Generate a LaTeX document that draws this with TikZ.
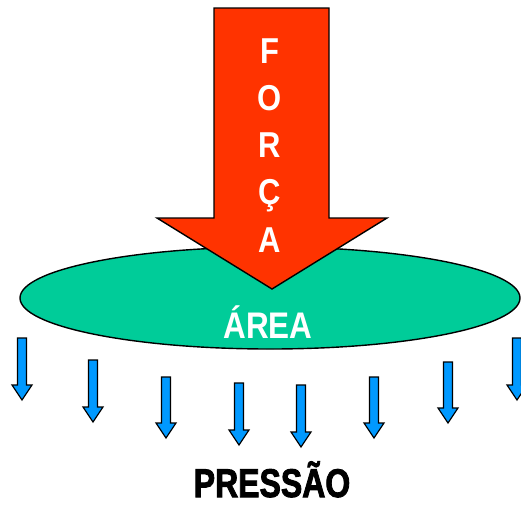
\documentclass[tikz,border=0pt]{standalone}
\usepackage{fontspec}
\setmainfont{Liberation Sans}
\newfontfamily\heavyfont{Liberation Sans}[BoldFeatures={FakeBold=2.5}]
\usetikzlibrary{shapes.geometric}
\definecolor{forcared}{HTML}{FF3300}
\definecolor{areagreen}{HTML}{00CC99}
\definecolor{pressblue}{HTML}{0099FF}
\tikzset{
  outline/.style={draw=black, line width=1.4pt, line join=miter},
  letter/.style={text=white, font=\bfseries\fontsize{36}{36}\selectfont, anchor=base, inner sep=0pt},
}
\begin{document}
\begin{tikzpicture}[x=1pt,y=-1pt]
\useasboundingbox (0,0) rectangle (521,506);
% area ellipse
\node[ellipse, outline, fill=areagreen, minimum width=500pt, minimum height=102pt, inner sep=0pt] (area) at (270,298) {};
% force arrow
\draw[outline, fill=forcared] (214,8) -- (329,8) -- (329,218) -- (387,218) -- (272,289) -- (157,218) -- (214,218) -- cycle;
\foreach \ch [count=\i from 0] in {F,O,R,Ç,A}
  \node[letter] (f\i) at (270,{63+47.25*\i}) {\scalebox{0.86}[1]{\ch}};
\node[letter, font=\bfseries\fontsize{37}{37}\selectfont] (areatext) at (268,338) {\scalebox{0.85}[1]{ÁREA}};
% pressure arrows
\foreach \x/\t/\b [count=\k] in {22/338/400, 93/360/422, 166/377/438, 239/383/445, 301/385/447, 374/377/438, 448/362/423, 517/338/400}
  \draw[outline, line width=1.2pt, fill=pressblue]
    (\x-4.5,\t) -- (\x+4.5,\t) -- (\x+4.5,\b-15) -- (\x+10,\b-15) -- (\x,\b) -- (\x-10,\b-15) -- (\x-4.5,\b-15) -- cycle;
\node[anchor=base, inner sep=0pt, font=\heavyfont\bfseries\fontsize{40}{40}\selectfont] (press) at (272,497) {\scalebox{0.8}[1]{PRESSÃO}};
\end{tikzpicture}
\end{document}
